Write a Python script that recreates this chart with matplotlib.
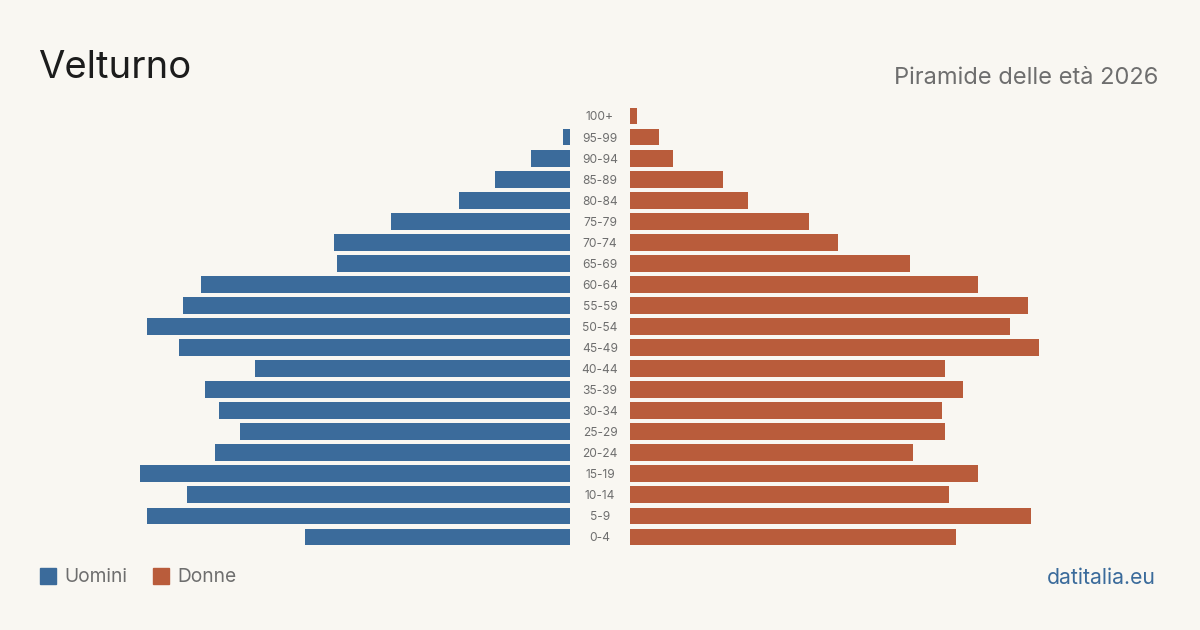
import matplotlib
matplotlib.use("Agg")
import matplotlib.pyplot as plt
from matplotlib.patches import Rectangle

age_groups = ["0-4", "5-9", "10-14", "15-19", "20-24", "25-29", "30-34", "35-39",
              "40-44", "45-49", "50-54", "55-59", "60-64", "65-69", "70-74", "75-79",
              "80-84", "85-89", "90-94", "95-99", "100+"]
men = [265, 423, 383, 430, 355, 330, 351, 365, 315, 391, 423, 387, 369, 233, 236,
       179, 111, 75, 39, 7, 0]
women = [326, 401, 319, 348, 283, 315, 312, 333, 315, 409, 380, 398, 348, 280, 208,
         179, 118, 93, 43, 29, 7]

BG = "#f9f7f2"
BLUE = "#3b6b9b"
ORANGE = "#b95c3b"
plt.rcParams['font.family'] = ['Inter', 'DejaVu Sans']

W, H = 1200, 630
fig = plt.figure(figsize=(12, 6.3), dpi=100, facecolor=BG)

top_px, bot_px = 105.5, 547.5
ax = fig.add_axes([0, 1 - bot_px / H, 1, (bot_px - top_px) / H])
ax.set_facecolor(BG)
ax.set_xlim(-600, 600)
ax.set_ylim(-0.5, len(age_groups) - 0.5)
ax.axis("off")

gap = 30
idx = list(range(len(age_groups)))
ax.barh(idx, [-m for m in men], left=-gap, height=0.8, color=BLUE)
ax.barh(idx, women, left=gap, height=0.8, color=ORANGE)
for i, lab in enumerate(age_groups):
    ax.text(0, i - 0.07, lab, ha="center", va="center", fontsize=8.6, color="#6e6e6e")

fig.text(38 / W, 1 - 68 / H, "Velturno", fontsize=27.5, color="#1c1c1c",
         ha="left", va="center")
fig.text(1158 / W, 1 - 78 / H, "Piramide delle età 2026", fontsize=17,
         color="#6e6e6e", ha="right", va="center")

# legend
for x0, col, lab in [(40, BLUE, "Uomini"), (153, ORANGE, "Donne")]:
    fig.patches.append(Rectangle((x0 / W, 1 - 584 / H), 16 / W, 16 / H,
                                 transform=fig.transFigure, color=col))
    fig.text((x0 + 24) / W, 1 - 577.5 / H, lab, fontsize=13.8, color="#6e6e6e",
             ha="left", va="center")

fig.text(1156 / W, 1 - 577.5 / H, "datitalia.eu", fontsize=15.3, color=BLUE,
         ha="right", va="center")

fig.savefig("out.png", dpi=100, facecolor=BG)
